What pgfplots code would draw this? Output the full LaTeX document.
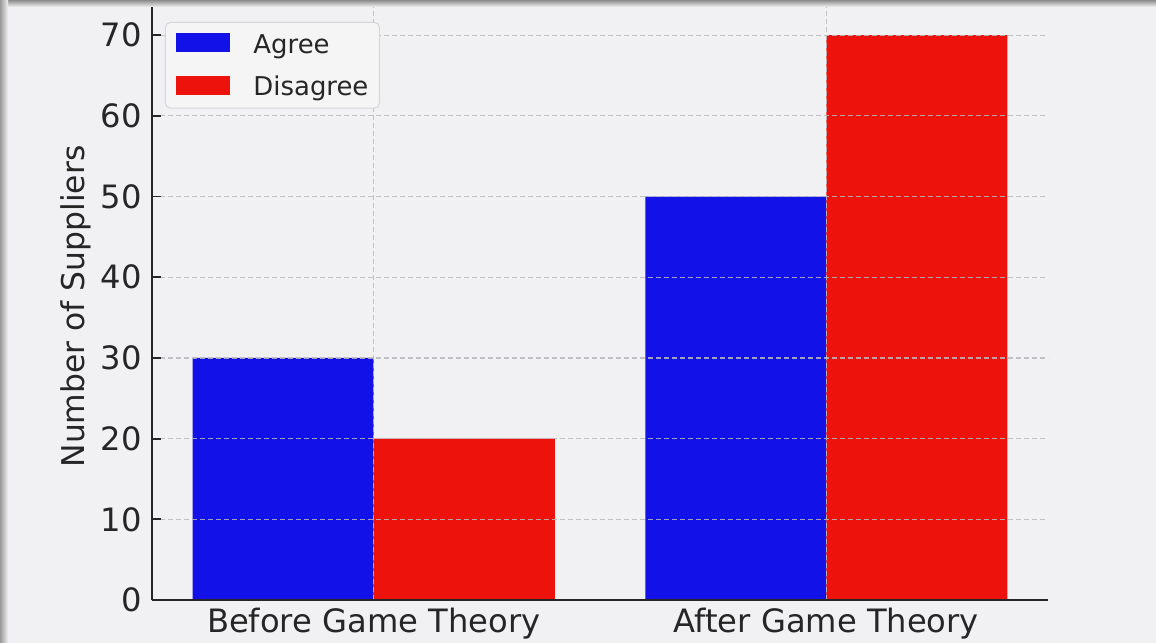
\documentclass[border=0pt]{standalone}
\usepackage{fontspec}
\setmainfont{DejaVu Sans}
\usepackage{pgfplots}
\pgfplotsset{compat=1.18}

\definecolor{bg}{RGB}{241,241,243}
\definecolor{legbg}{RGB}{245,245,246}
\definecolor{agree}{RGB}{18,18,232}
\definecolor{disagree}{RGB}{238,18,12}
\definecolor{spine}{RGB}{38,38,38}
\definecolor{gridc}{RGB}{185,185,190}

\begin{document}
\begin{tikzpicture}
  % canvas and soft edge shadow
  \fill[bg] (0,0) rectangle (1156bp,643bp);
  \shade[top color=black!45, bottom color=bg] (0,636bp) rectangle (1156bp,643bp);
  \shade[left color=black!40, right color=bg] (0,0) rectangle (8bp,643bp);
  \begin{axis}[
    at={(152bp,43bp)}, anchor=south west,
    scale only axis, width=896bp, height=593bp,
    xmin=-0.49, xmax=1.49, ymin=0, ymax=73.5,
    axis x line*=bottom, axis y line*=left,
    axis line style={spine, line width=2.2bp},
    axis on top,
    xtick={0,1},
    xticklabels={Before Game Theory, After Game Theory},
    ytick={0,10,...,70},
    tick align=inside,
    major tick length=9bp,
    xtick style={draw=none},
    ytick style={spine, line width=1.8bp},
    /pgf/number format/assume math mode=true,
    tick label style={font=\fontsize{32.3}{37}\selectfont, text=spine},
    xticklabel style={inner sep=0pt, yshift=-8bp},
    yticklabel style={inner sep=0pt, xshift=-10bp},
    ylabel={Number of Suppliers},
    every axis y label/.style={at={(axis description cs:0,0.5)}, xshift=-76bp, yshift=-3bp,
      rotate=90, anchor=center, font=\fontsize{31.5}{36}\selectfont, text=spine},
    grid=major,
    major grid style={gridc, line width=1.1bp, dash pattern=on 5bp off 3bp, opacity=0.85},
    legend style={at={(axis description cs:0.0145,0.975)}, anchor=north west,
      draw=black!16, fill=legbg,
      rounded corners=5bp, line width=1bp,
      inner xsep=11bp, inner ysep=11bp, row sep=21bp, column sep=23bp,
      nodes={inner sep=0pt},
      font=\fontsize{26}{30}\selectfont, text=spine},
    legend cell align=left,
  ]
    \addplot[ybar, bar width=0.4, bar shift=-0.2, fill=agree, draw=none,
      legend image code/.code={\fill[agree, sharp corners] (0bp,-8bp) rectangle (54bp,11bp);}]
      coordinates {(0,30) (1,50)};
    \addlegendentry{Agree}
    \addplot[ybar, bar width=0.4, bar shift=0.2, fill=disagree, draw=none,
      legend image code/.code={\fill[disagree, sharp corners] (0bp,-8bp) rectangle (54bp,11bp);}]
      coordinates {(0,20) (1,70)};
    \addlegendentry{Disagree}
  \end{axis}
\end{tikzpicture}
\end{document}
